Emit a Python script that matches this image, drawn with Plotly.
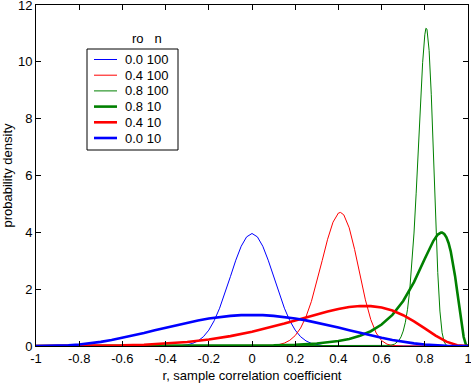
import plotly.graph_objects as go

# rho = 0.0, n = 100
x_r0_n100 = [-1.0, -0.4, -0.35, -0.325, -0.3, -0.275, -0.25, -0.225, -0.2, -0.175, -0.15, -0.125, -0.1, -0.075, -0.05, -0.025,
             0.0, 0.025, 0.05, 0.075, 0.1, 0.125, 0.15, 0.175, 0.2, 0.225, 0.25, 0.275, 0.3, 0.325, 0.35, 0.4, 1.0]
y_r0_n100 = [0.0, 0.001, 0.008, 0.019, 0.043, 0.091, 0.179, 0.327, 0.558, 0.890, 1.33, 1.86, 2.44, 3.02, 3.51, 3.84,
             3.96, 3.84, 3.51, 3.02, 2.44, 1.86, 1.33, 0.890, 0.558, 0.327, 0.179, 0.091, 0.043, 0.019, 0.008, 0.001, 0.0]

# rho = 0.4, n = 100
x_r4_n100 = [-1.0, 0.075, 0.1, 0.125, 0.15, 0.175, 0.2, 0.225, 0.25, 0.275, 0.3, 0.325, 0.35, 0.375, 0.4, 0.41, 0.425,
             0.45, 0.475, 0.5, 0.525, 0.55, 0.575, 0.6, 0.625, 0.65, 0.675, 0.7, 1.0]
y_r4_n100 = [0.0, 0.008, 0.023, 0.051, 0.103, 0.201, 0.366, 0.632, 1.028, 1.569, 2.245, 3.007, 3.757, 4.358, 4.679, 4.70, 4.615,
             4.160, 3.399, 2.493, 1.624, 0.927, 0.457, 0.190, 0.065, 0.018, 0.004, 0.001, 0.0]

# rho = 0.8, n = 100
x_r8_n100 = [-1.0, 0.6, 0.62, 0.64, 0.66, 0.68, 0.69, 0.70, 0.71, 0.72, 0.73, 0.74, 0.75, 0.76, 0.77, 0.78, 0.79, 0.80,
             0.805, 0.81, 0.82, 0.83, 0.84, 0.85, 0.86, 0.87, 0.88, 0.89, 0.90, 0.92, 1.0]
y_r8_n100 = [0.0, 0.001, 0.006, 0.021, 0.066, 0.194, 0.322, 0.525, 0.835, 1.292, 1.940, 2.827, 3.975, 5.378, 6.95, 8.56, 9.97, 10.95,
             11.18, 11.15, 10.40, 8.86, 6.75, 4.51, 2.587, 1.230, 0.468, 0.135, 0.027, 0.001, 0.0]

# rho = 0.8, n = 10
x_r8_n10 = [-1.0, -0.5, -0.2, 0.0, 0.1, 0.2, 0.3, 0.4, 0.45, 0.5, 0.55, 0.6, 0.65, 0.7, 0.75, 0.8, 0.82, 0.84, 0.86,
            0.87, 0.875, 0.88, 0.89, 0.9, 0.91, 0.92, 0.93, 0.94, 0.95, 0.96, 0.97, 0.98, 0.99, 1.0]
y_r8_n10 = [0.0, 0.0003, 0.003, 0.011, 0.022, 0.043, 0.086, 0.174, 0.250, 0.360, 0.520, 0.755, 1.096, 1.583, 2.247, 3.068, 3.402, 3.702, 3.922,
            3.978, 3.991, 3.99, 3.943, 3.823, 3.624, 3.331, 2.946, 2.467, 1.916, 1.330, 0.767, 0.315, 0.055, 0.0]

# rho = 0.4, n = 10
x_r4_n10 = [-1.0, -0.9, -0.8, -0.7, -0.6, -0.5, -0.4, -0.3, -0.2, -0.1, 0.0, 0.05, 0.1, 0.15, 0.2, 0.25, 0.3, 0.35,
            0.4, 0.45, 0.5, 0.55, 0.6, 0.65, 0.7, 0.75, 0.8, 0.85, 0.9, 0.95, 1.0]
y_r4_n10 = [0.0, 0.0003, 0.0022, 0.008, 0.021, 0.045, 0.084, 0.143, 0.229, 0.347, 0.499, 0.588, 0.685, 0.789, 0.897, 1.008, 1.116, 1.217,
            1.304, 1.370, 1.406, 1.403, 1.352, 1.246, 1.084, 0.869, 0.620, 0.366, 0.153, 0.027, 0.0]

# rho = 0.0, n = 10
x_r0_n10 = [-1.0, -0.95, -0.9, -0.85, -0.8, -0.75, -0.7, -0.65, -0.6, -0.55, -0.5, -0.45, -0.4, -0.35, -0.3, -0.25, -0.2, -0.15, -0.1, -0.05,
            0.0, 0.05, 0.1, 0.15, 0.2, 0.25, 0.3, 0.35, 0.4, 0.45, 0.5, 0.55, 0.6, 0.65, 0.7, 0.75, 0.8, 0.85, 0.9, 0.95, 1.0]
y_r0_n10 = [0.0, 0.001, 0.0075, 0.0234, 0.051, 0.0916, 0.145, 0.211, 0.287, 0.371, 0.461, 0.555, 0.648, 0.739, 0.824, 0.901, 0.968, 1.0215, 1.061, 1.086,
            1.094, 1.086, 1.061, 1.0215, 0.968, 0.901, 0.824, 0.739, 0.648, 0.555, 0.461, 0.371, 0.287, 0.211, 0.145, 0.0916, 0.051, 0.0234, 0.0075, 0.001, 0.0]

series_names = ["0.0 100", "0.4 100", "0.8 100", "0.8 10", "0.4 10", "0.0 10"]
legend_title = "ro &nbsp; n"

x_ticks = [-1, -0.8, -0.6, -0.4, -0.2, 0, 0.2, 0.4, 0.6, 0.8, 1]
x_tick_labels = ["-1", "-0.8", "-0.6", "-0.4", "-0.2", "0", "0.2", "0.4", "0.6", "0.8", "1"]
y_ticks = [0, 2, 4, 6, 8, 10, 12]
y_tick_labels = ["0", "2", "4", "6", "8", "10", "12"]

BLUE = "#0000ff"
RED = "#ff0000"
GREEN = "#008000"
FONT = "Arial, 'Liberation Sans', Helvetica, sans-serif"

W, H = 471, 383
ML, MR, MT, MB = 36, 3, 5, 37
PW, PH = W - ML - MR, H - MT - MB


def px(x):  # page pixel -> paper x
    return (x - ML) / PW


def py(y):  # page pixel -> paper y
    return (H - MB - y) / PH


fig = go.Figure()
styles = [(BLUE, 1), (RED, 1), (GREEN, 1), (GREEN, 2.6), (RED, 2.6), (BLUE, 2.6)]
data = [(x_r0_n100, y_r0_n100), (x_r4_n100, y_r4_n100), (x_r8_n100, y_r8_n100),
        (x_r8_n10, y_r8_n10), (x_r4_n10, y_r4_n10), (x_r0_n10, y_r0_n10)]
for (xs, ys), (col, w), name in zip(data, styles, series_names):
    fig.add_trace(go.Scatter(x=xs, y=ys, mode="lines", name=name,
                             line=dict(color=col, width=w), showlegend=False))

# legend box drawn in MATLAB style
shapes = [dict(type="rect", xref="paper", yref="paper",
               x0=px(87), x1=px(178), y0=py(150), y1=py(49),
               line=dict(color="black", width=1), fillcolor="white", layer="above")]
annotations = [dict(text=legend_title, x=px(130), y=py(38), xref="paper", yref="paper",
                    xanchor="left", yanchor="middle", showarrow=False, font=dict(size=13))]
for i, ((col, w), name) in enumerate(zip(styles, series_names)):
    yy = 59.5 + 15.7 * i
    shapes.append(dict(type="line", xref="paper", yref="paper",
                       x0=px(94), x1=px(117), y0=py(yy), y1=py(yy),
                       line=dict(color=col, width=w), layer="above"))
    annotations.append(dict(text=name, x=px(123), y=py(yy), xref="paper", yref="paper",
                            xanchor="left", yanchor="middle", showarrow=False,
                            font=dict(size=13)))

fig.update_layout(
    width=W, height=H,
    margin=dict(l=ML, r=MR, t=MT, b=MB, autoexpand=False),
    paper_bgcolor="white", plot_bgcolor="white",
    font=dict(family=FONT, size=13, color="black"),
    showlegend=False,
    shapes=shapes,
    annotations=annotations,
)
fig.update_xaxes(range=[-1, 1], tickvals=x_ticks, ticktext=x_tick_labels,
                 ticks="inside", ticklen=5, tickcolor="black",
                 showline=True, linecolor="black", linewidth=1, mirror="ticks",
                 showgrid=False, zeroline=False, tickfont=dict(size=13), automargin=False,
                 ticklabeloverflow="allow",
                 title=dict(text="r, sample correlation coefficient", font=dict(size=13), standoff=6))
fig.update_yaxes(range=[0, 12], tickvals=y_ticks, ticktext=y_tick_labels,
                 ticks="inside", ticklen=5, tickcolor="black",
                 showline=True, linecolor="black", linewidth=1, mirror="ticks",
                 showgrid=False, zeroline=False, tickfont=dict(size=13), automargin=False,
                 ticklabeloverflow="allow",
                 title=dict(text="probability density", font=dict(size=13), standoff=4))

fig.write_html("out.html", config={"displayModeBar": False},
               post_script="document.body.style.margin='0';document.body.style.overflow='hidden';")
